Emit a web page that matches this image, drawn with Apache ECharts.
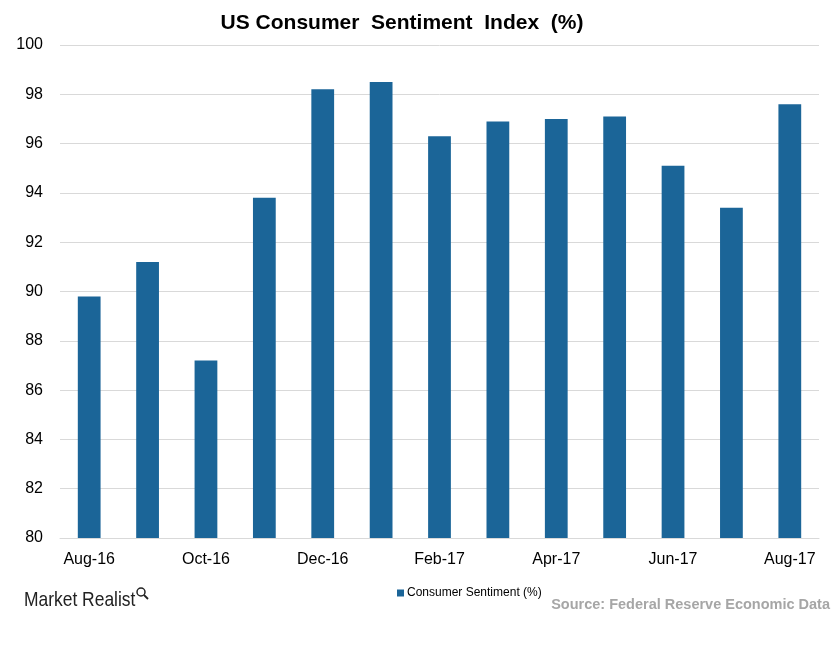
<!DOCTYPE html>
<html><head><meta charset="utf-8">
<script src="https://cdn.jsdelivr.net/npm/echarts@6/dist/echarts.min.js"></script>
<style>html,body{margin:0;padding:0;background:#fff}#c{width:840px;height:672px}</style>
</head><body><div id="c"></div>
<script>
const categories = ['Aug-16','Sep-16','Oct-16','Nov-16','Dec-16','Jan-17','Feb-17','Mar-17','Apr-17','May-17','Jun-17','Jul-17','Aug-17'];
const sentiment = [89.8, 91.2, 87.2, 93.8, 98.2, 98.5, 96.3, 96.9, 97.0, 97.1, 95.1, 93.4, 97.6];
const seriesName = 'Consumer Sentiment (%)';
const chart = echarts.init(document.getElementById('c'));
chart.setOption({
  animation: false,
  title: {
    text: 'US Consumer  Sentiment  Index  (%)',
    left: 397, top: 8, textAlign: 'center',
    textStyle: {fontFamily: 'Liberation Sans', fontSize: 21, fontWeight: 'bold', color: '#000'}
  },
  grid: {left: 60, right: 21, top: 45, bottom: 134},
  legend: {
    data: [seriesName], left: 392, top: 582, itemWidth: 7, itemHeight: 7, itemGap: 4,
    icon: 'rect',
    textStyle: {fontFamily: 'Liberation Sans', fontSize: 12, color: '#000', padding: [0,0,0,-2]}
  },
  xAxis: {
    type: 'category', data: categories,
    axisLine: {lineStyle: {color: '#d9d9d9'}},
    axisTick: {show: false},
    axisLabel: {interval: 1, margin: 14, fontFamily: 'Liberation Sans', fontSize: 16, color: '#000'}
  },
  yAxis: {
    type: 'value', min: 80, max: 100, interval: 2,
    axisLine: {show: false}, axisTick: {show: false},
    splitLine: {lineStyle: {color: '#d9d9d9'}},
    axisLabel: {margin: 17, fontFamily: 'Liberation Sans', fontSize: 16, color: '#000'}
  },
  series: [{
    name: seriesName, type: 'bar', data: sentiment,
    barWidth: '39%', itemStyle: {color: '#1b6598'}
  }],
  graphic: [
    {type: 'text', x: 24, y: 590, scaleX: 0.83, style: {text: 'Market Realist', fontFamily: 'Liberation Sans', fontSize: 21, fill: '#222'}},
    {type: 'circle', shape: {cx: 141, cy: 592, r: 4}, style: {fill: 'none', stroke: '#222', lineWidth: 1.5}},
    {type: 'line', shape: {x1: 144, y1: 595, x2: 148, y2: 599}, style: {stroke: '#222', lineWidth: 1.8}},
    {type: 'text', right: 10, top: 597, style: {text: 'Source: Federal Reserve Economic Data', fontFamily: 'Liberation Sans', fontSize: 14.5, fontWeight: 'bold', fill: '#a6a6a6'}}
  ]
});
</script></body></html>
